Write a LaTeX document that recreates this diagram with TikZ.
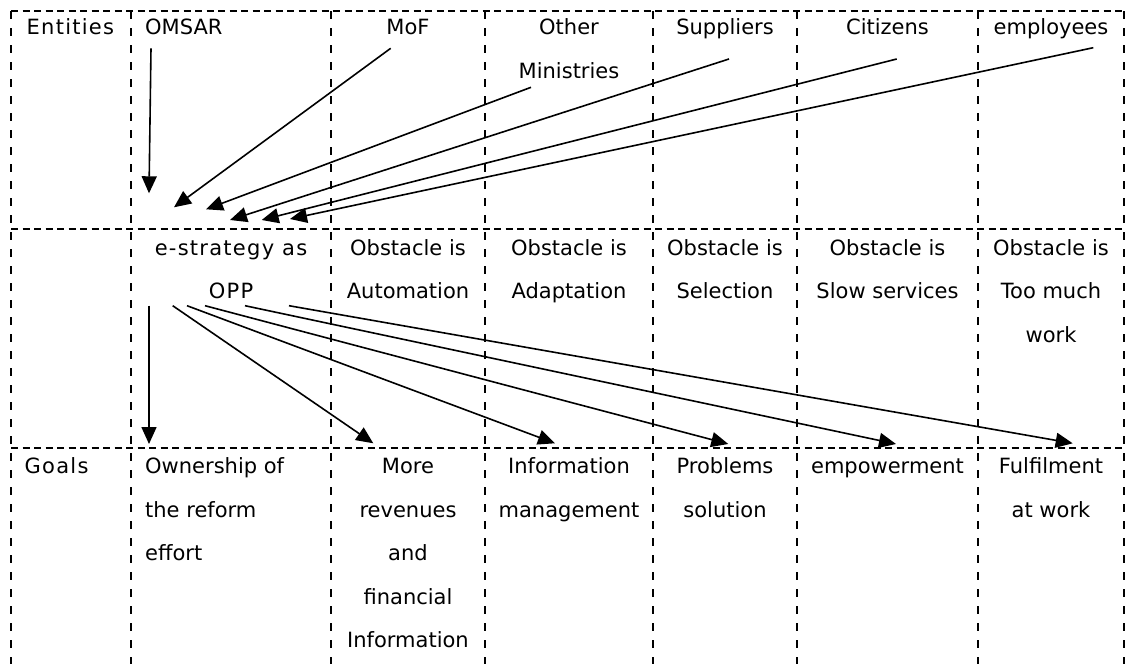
\documentclass[tikz,border=0pt]{standalone}
\usepackage{fontspec}
\setmainfont{DejaVu Sans}
\usetikzlibrary{arrows.meta}
\newcommand\cellstrut{\rule{0pt}{20pt}}
\begin{document}
\begin{tikzpicture}[x=1pt,y=-1pt,
  cell/.style={inner sep=0pt, font=\fontsize{21}{43.5}\selectfont, align=center, anchor=north},
  lcell/.style={cell, align=left, anchor=north west},
  wide/.style={font=\fontsize{21}{43.5}\selectfont\addfontfeatures{LetterSpace=6}},
  hgrid/.style={line width=1.7pt, dash pattern=on 7pt off 4.5pt},
  vgrid/.style={line width=1.7pt, dash pattern=on 8pt off 9pt},
  link/.style={line width=1.6pt, -{Triangle[length=17pt,width=15pt]}}
]
\useasboundingbox (0,0) rectangle (1128,664);

% table rules
\foreach \yy in {11,229,448}
  \draw[hgrid] (11,\yy) -- (1124,\yy);
\foreach \xx in {11,131,331,485,653,797,978,1124}
  \draw[vgrid] (\xx,11) -- (\xx,664);

% row 1: entities
\node[lcell,wide] (entities) at (26.5,14.7) {\cellstrut Entities};
\node[lcell] (omsar) at (145,14.7) {\cellstrut OMSAR};
\node[cell] (mof) at (408,14.7) {\cellstrut MoF};
\node[cell] (other) at (569,14.7) {\cellstrut Other\\Ministries};
\node[cell] (suppliers) at (725,14.7) {\cellstrut Suppliers};
\node[cell] (citizens) at (887.5,14.7) {\cellstrut Citizens};
\node[cell] (employees) at (1051,14.7) {\cellstrut employees};

% row 2: strategy and obstacles
\node[cell,wide] (opp) at (231,235) {\cellstrut e-strategy as\\OPP};
\node[cell] (obs1) at (408,235) {\cellstrut Obstacle is\\Automation};
\node[cell] (obs2) at (569,235) {\cellstrut Obstacle is\\Adaptation};
\node[cell] (obs3) at (725,235) {\cellstrut Obstacle is\\Selection};
\node[cell] (obs4) at (887.5,235) {\cellstrut Obstacle is\\Slow services};
\node[cell] (obs5) at (1051,235) {\cellstrut Obstacle is\\Too much\\work};

% row 3: goals
\node[lcell,wide] (goals) at (24.5,453.3) {\cellstrut Goals};
\node[lcell] (own) at (145,453.3) {\cellstrut Ownership of\\the reform\\effort};
\node[cell] (revenue) at (408,453.3) {\cellstrut More\\revenues\\and\\financial\\Information};
\node[cell] (infoman) at (569,453.3) {\cellstrut Information\\management};
\node[cell] (problems) at (725,453.3) {\cellstrut Problems\\solution};
\node[cell] (empower) at (887.5,453.3) {\cellstrut empowerment};
\node[cell] (fulfil) at (1051,453.3) {\cellstrut Fulfilment\\at work};

% connector ends
\coordinate (omsar-out) at (151,48.3);
\coordinate (mof-out) at (390.7,48.3);
\coordinate (other-out) at (531,87.3);
\coordinate (suppliers-out) at (729,59);
\coordinate (citizens-out) at (896.7,59);
\coordinate (employees-out) at (1093.3,47.7);
\coordinate (opp-in1) at (149,193.3);
\coordinate (opp-in2) at (174,207.3);
\coordinate (opp-in3) at (206,209.3);
\coordinate (opp-in4) at (230,220);
\coordinate (opp-in5) at (261.7,220);
\coordinate (opp-in6) at (290,219);

\coordinate (opp-out1) at (149,305.7);
\coordinate (opp-out2) at (172.7,305.7);
\coordinate (opp-out3) at (187,305.7);
\coordinate (opp-out4) at (205,305.7);
\coordinate (opp-out5) at (245,305.7);
\coordinate (opp-out6) at (289,305.7);
\coordinate (own-in) at (149,444);
\coordinate (revenue-in) at (373.3,443.3);
\coordinate (infoman-in) at (555,443.3);
\coordinate (problems-in) at (728.3,444);
\coordinate (empower-in) at (896,444);
\coordinate (fulfil-in) at (1072.7,443.3);

% entities feed the strategy
\draw[link] (omsar-out) -- (opp-in1);
\draw[link] (mof-out) -- (opp-in2);
\draw[link] (other-out) -- (opp-in3);
\draw[link] (suppliers-out) -- (opp-in4);
\draw[link] (citizens-out) -- (opp-in5);
\draw[link] (employees-out) -- (opp-in6);

% strategy leads to goals
\draw[link] (opp-out1) -- (own-in);
\draw[link] (opp-out2) -- (revenue-in);
\draw[link] (opp-out3) -- (infoman-in);
\draw[link] (opp-out4) -- (problems-in);
\draw[link] (opp-out5) -- (empower-in);
\draw[link] (opp-out6) -- (fulfil-in);
\end{tikzpicture}
\end{document}
